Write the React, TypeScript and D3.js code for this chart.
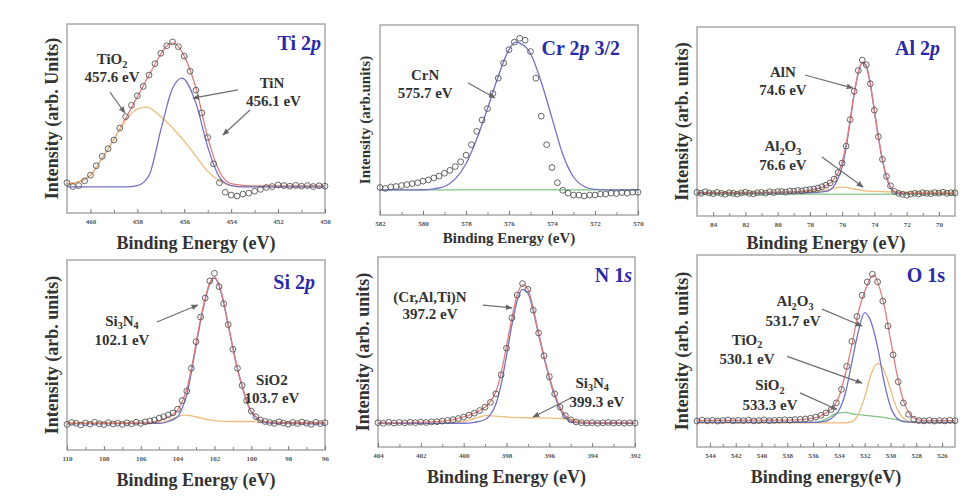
import { useRef, useEffect } from "react";
import * as d3 from "d3";

type Pt = [number, number];

// intensities are read as % of the plot frame height (0 = bottom, 100 = top)

// Ti 2p: counts every 0.25 eV from 461 eV
const tiCounts = [
  16, 14, 14.5, 17, 20, 25, 30, 34, 38.6, 45, 51, 57, 62, 67, 73, 79, 84.5, 88.5, 90.5, 88, 83, 75, 65,
  53, 40, 26, 16, 11, 9.5, 9, 10, 10.5, 11.5, 12.5, 13.5, 14, 14.8, 14.5, 14.2, 14.6, 14.2, 14.5, 14.0,
  14.4, 14.2,
];
const tiEnvelope: Pt[] = [
  [461, 15.5], [460.5, 16.5], [460, 20], [459.5, 29], [459, 39], [458.5, 50], [458, 61.5], [457.5, 73],
  [457, 84], [456.75, 88.5], [456.5, 90], [456.25, 88], [456, 83], [455.5, 66], [455, 40], [454.5, 22],
  [454, 15.5], [453.5, 14.6], [453, 14.3], [450, 14.3],
];
const tiTiN: Pt[] = [
  [461, 13.8], [458.5, 13.8], [458, 14.5], [457.5, 20], [457, 44], [456.5, 66], [456.1, 71.4], [455.5, 58],
  [455, 35], [454.5, 19], [454, 14.5], [453.5, 13.8], [450, 13.8],
];
const tiTiO2: Pt[] = [
  [461, 15], [460.5, 16.5], [460, 20], [459.5, 29], [459, 39], [458.5, 49], [458, 55], [457.6, 56],
  [457, 51], [456.5, 45], [456, 38], [455.5, 30], [455, 22], [454.5, 17], [454, 14.5], [453.5, 14],
  [450, 13.8],
];

// Cr 2p 3/2: counts every 0.25 eV from 582 eV
const crCounts = [
  14.5, 14, 14.8, 15, 15.5, 16, 16.5, 17, 17.8, 18.5, 19.5, 20.5, 22, 23.5, 25.5, 28, 31.5, 37, 44, 50,
  56, 64, 72, 80, 87, 91, 93, 92, 86, 72, 52, 37, 25, 17, 13, 11.5, 10.5, 10.5, 10, 10.5, 10.5, 11, 11,
  11.5, 11.3, 11.8, 11.5, 12, 12,
];
const crCrN: Pt[] = [
  [582, 13.2], [580, 13.3], [579.5, 13.8], [579, 15], [578.5, 19], [578, 27], [577.5, 40], [577, 56],
  [576.5, 73], [576, 87], [575.7, 91], [575.5, 90.5], [575, 85], [574.5, 70], [574, 51], [573.5, 32],
  [573, 20], [572.5, 15], [572, 13.5], [571, 13.2], [570, 13.2],
];
const crBackground: Pt[] = [[582, 13.2], [570, 13.2]];

// Al 2p: counts every 0.25 eV from 85 eV
const alCounts = [
  12.5, 12.0, 12.8, 12.2, 11.8, 12.5, 12.0, 11.5, 12.3, 12.0, 11.6, 12.2, 12.6, 12.0, 11.7, 12.3, 12.5,
  12.1, 12.8, 12.4, 12.9, 13.0, 12.6, 13.2, 13.1, 13.5, 13.3, 13.8, 14.0, 14.3, 14.8, 15.5, 16.3, 17.5,
  19.5, 23, 28, 37, 51, 66, 77, 82.5, 80, 70, 56, 42, 30, 21, 16, 13, 12, 11.5, 11, 11.6, 12.0, 11.7,
  12.3, 12.0, 11.8, 12.4, 12.1, 12.6, 12.0, 12.3, 12.2,
];
const alEnvelope: Pt[] = [
  [85, 12.3], [81, 12.4], [79, 12.8], [78, 13.5], [77.5, 14.5], [77, 16], [76.5, 19.5], [76.25, 23],
  [76, 28.5], [75.75, 38], [75.5, 51], [75.25, 65], [75, 76], [74.75, 81.5], [74.5, 79.5], [74.25, 70],
  [74, 56], [73.75, 42], [73.5, 30], [73.25, 21], [73, 15.5], [72.75, 13], [72.5, 12.2], [72, 12], [69, 12],
];
const alAlN: Pt[] = [
  [85, 12], [78, 12.2], [77, 13], [76.5, 16], [76.25, 20], [76, 26], [75.75, 36.5], [75.5, 50],
  [75.25, 64.5], [75, 75.5], [74.75, 81], [74.5, 79], [74.25, 69.5], [74, 55.5], [73.75, 41.5],
  [73.5, 29.5], [73.25, 20.5], [73, 15], [72.75, 12.6], [72.5, 11.9], [72, 11.8], [69, 11.8],
];
const alAl2O3: Pt[] = [
  [85, 12.5], [78, 12.7], [77, 13.5], [76.5, 14.8], [76, 15.3], [75.5, 14.8], [75, 13.8], [74, 13],
  [72, 12.6], [69, 12.6],
];
const alBackground: Pt[] = [[85, 11.6], [69, 11.6]];

// Si 2p: counts every 0.25 eV from 110 eV
const siCounts = [
  13.5, 14.5, 14.0, 13.2, 14.2, 13.6, 14.6, 13.8, 13.4, 14.4, 13.7, 14.1, 13.5, 14.3, 13.8, 14.6, 14.0,
  14.8, 15.3, 15.8, 16.8, 17.5, 18.5, 19.5, 21.5, 26, 31, 43, 57, 70, 80, 89, 93, 86, 77, 66, 53, 43,
  34, 26, 20.5, 17.5, 15.8, 15, 14.5, 14.0, 14.8, 14.2, 13.6, 14.5, 13.9, 14.7, 14.1, 13.5, 14.6, 13.9,
  14.4,
];
const siEnvelope: Pt[] = [
  [110, 14], [106, 14.1], [105, 15.5], [104.5, 17.5], [104, 21], [103.75, 25.5], [103.5, 32],
  [103.25, 43], [103, 56], [102.75, 69], [102.5, 80], [102.25, 88], [102, 91], [101.75, 87],
  [101.5, 78], [101.25, 66], [101, 54], [100.75, 43], [100.5, 34], [100.25, 26], [100, 20.5],
  [99.75, 17.5], [99.5, 15.8], [99, 14.6], [98, 14.2], [96, 14.2],
];
const siSi3N4: Pt[] = [
  [110, 13.8], [105, 14], [104.5, 15], [104, 17.5], [103.75, 22], [103.5, 29], [103.25, 41],
  [103, 54.5], [102.75, 68], [102.5, 79], [102.25, 87.5], [102, 90.5], [101.75, 86.5], [101.5, 77.5],
  [101.25, 65.5], [101, 53.5], [100.75, 42.5], [100.5, 33.5], [100.25, 25.5], [100, 20], [99.75, 17],
  [99.5, 15.3], [99, 14.2], [96, 13.8],
];
const siSiO2: Pt[] = [
  [110, 14.2], [105, 14.5], [104.5, 15.5], [104, 17.5], [103.6, 18.4], [103, 17.5], [102.5, 16.3],
  [102, 15.5], [101, 15], [100, 15], [99, 14.6], [96, 14.5],
];

// N 1s: counts every 0.25 eV from 404 eV
const nCounts = [
  12.8, 12.5, 13.0, 12.6, 12.9, 12.7, 13.0, 12.8, 13.1, 12.9, 13.2, 13.3, 13.6, 14.0, 14.4, 15.0, 15.8,
  16.8, 17.8, 19.2, 21, 23.5, 28, 38, 52, 68, 80, 86, 83, 72, 60, 48, 37, 28, 21, 16.5, 14.3, 13.2, 12.8,
  12.6, 12.8, 12.5, 12.7, 12.9, 12.6, 12.8, 12.5, 12.7, 12.6,
];
const nEnvelope: Pt[] = [
  [404, 12.7], [401.5, 13.2], [401, 13.6], [400.5, 14.4], [400, 15.8], [399.5, 17.8], [399, 21],
  [398.75, 24], [398.5, 29], [398.25, 39], [398, 53], [397.75, 68], [397.5, 80], [397.25, 85.5],
  [397, 83], [396.75, 73], [396.5, 60], [396.25, 48], [396, 37], [395.75, 28], [395.5, 21],
  [395.25, 16.5], [395, 14.3], [394.5, 12.9], [392, 12.7],
];
const nNitride: Pt[] = [
  [404, 12.4], [400, 12.5], [399.5, 13], [399, 14.5], [398.75, 17], [398.5, 22.5], [398.25, 33],
  [398, 48], [397.75, 64], [397.5, 77], [397.25, 83], [397, 81], [396.75, 71.5], [396.5, 59],
  [396.25, 47], [396, 36], [395.75, 27], [395.5, 20], [395.25, 15.5], [395, 13.5], [394.5, 12.6],
  [392, 12.4],
];
const nSi3N4: Pt[] = [
  [404, 12.5], [401, 12.7], [400, 13.5], [399.5, 15], [399, 16.5], [398.5, 16.3], [398, 15.8],
  [397, 15.4], [396, 15.2], [395, 14.5], [394.5, 13.2], [394, 12.6], [392, 12.5],
];

// O 1s: counts every 0.4 eV from 545 eV
const oCounts = [
  13.5, 14.0, 13.6, 13.9, 13.5, 13.8, 14.1, 13.6, 13.9, 13.7, 14.0, 13.6, 13.8, 14.1, 13.7, 13.9, 14.0,
  14.2, 14.0, 14.3, 14.4, 14.6, 15.0, 15.6, 16.5, 17.8, 19.5, 23, 30, 42, 55, 68, 79, 86, 90, 86, 76,
  63, 48, 34, 23, 17, 14.5, 13.8, 13.6, 13.9, 13.5, 13.8, 13.6, 13.9, 13.7,
];
const oEnvelope: Pt[] = [
  [545, 13.8], [538, 14], [537, 14.3], [536, 15], [535.5, 16], [535, 17.8], [534.5, 20.5], [534, 26],
  [533.5, 38], [533, 53], [532.5, 70], [532, 81], [531.5, 88.5], [531.25, 89.5], [531, 86], [530.5, 74],
  [530, 56], [529.5, 38], [529, 24], [528.5, 17], [528, 14.5], [527.5, 13.8], [525, 13.7],
];
const oAl2O3: Pt[] = [
  [545, 12.8], [536, 12.8], [535, 13.5], [534.5, 15.4], [534, 19], [533.5, 28], [533, 44], [532.5, 60],
  [532, 70], [531.5, 65], [531, 52], [530.5, 34], [530, 21], [529.5, 15], [529, 13.2], [528, 12.8],
  [525, 12.8],
];
const oTiO2: Pt[] = [
  [545, 12.6], [533.5, 12.6], [533, 13.2], [532.5, 17], [532, 26], [531.5, 38], [531, 43.6],
  [530.5, 40], [530, 30], [529.5, 20], [529, 15], [528.5, 13.2], [528, 12.6], [525, 12.6],
];
const oSiO2: Pt[] = [
  [545, 12.8], [536, 12.8], [535.5, 13.2], [535, 14.5], [534.5, 16.5], [534, 17.8], [533.5, 18],
  [533, 17.3], [532, 16.5], [531, 15.8], [530, 14.8], [529, 13.6], [528.5, 13], [528, 12.8], [525, 12.8],
];

const RED = "#e27c7c";
const BLUE = "#7272c6";
const ORANGE = "#efba7c";
const GREEN = "#82c482";
const TITLE = "#2b2ba6";
const SERIF = "'Liberation Serif', 'Times New Roman', serif";

const panels = [
  {
    title: "Ti 2*p*", titleX: 321, titleY: 43,
    domain: [461, 450], start: 461, step: 0.25, counts: tiCounts,
    fits: [[tiEnvelope, RED], [tiTiO2, ORANGE], [tiTiN, BLUE]] as [Pt[], string][],
    frame: { x: 67, y: 24, w: 258, h: 189 },
    yLabel: "Intensity (arb. Units)", yLabelX: 52, xLabel: "Binding Energy (eV)", xLabelY: 243, labelSize: 18,
    notes: [["TiO_2", 459.08, 81.5], ["457.6 eV", 459.08, 72], ["TiN", 452.26, 69], ["456.1 eV", 452.2, 59.5]],
    arrows: [[459.17, 64, 458.53, 52.9], [453.71, 65.1, 455.63, 60.8], [453.2, 54.5, 454.35, 41.3]],
  },
  {
    title: "Cr 2*p* 3/2", titleX: 620, titleY: 48,
    domain: [582, 570], start: 582, step: 0.25, counts: crCounts,
    fits: [[crBackground, GREEN], [crCrN, BLUE]] as [Pt[], string][],
    frame: { x: 380, y: 25, w: 258, h: 190 },
    yLabel: "Intensity (arb.units)", yLabelX: 365, xLabel: "Binding Energy (eV)", xLabelY: 238, labelSize: 15,
    notes: [["CrN", 579.9, 74], ["575.7 eV", 579.9, 64.2]],
    arrows: [[577.9, 69.5, 576.65, 61.6]],
  },
  {
    title: "Al 2*p*", titleX: 940, titleY: 48,
    domain: [85, 69], start: 85, step: 0.25, counts: alCounts,
    fits: [[alBackground, GREEN], [alAl2O3, ORANGE], [alAlN, BLUE], [alEnvelope, RED]] as [Pt[], string][],
    frame: { x: 697, y: 27, w: 258, h: 189 },
    yLabel: "Intensity (arb. units)", yLabelX: 682, xLabel: "Binding Energy (eV)", xLabelY: 243, labelSize: 18,
    notes: [["AlN", 79.67, 76.5], ["74.6 eV", 79.67, 66.7], ["Al_2O_3", 79.67, 37], ["76.6 eV", 79.67, 27]],
    arrows: [[78.3, 74.6, 75.33, 67.7], [77.25, 31.2, 74.7, 15.3]],
  },
  {
    title: "Si 2*p*", titleX: 315, titleY: 282,
    domain: [110, 96], start: 110, step: 0.25, counts: siCounts,
    fits: [[siSiO2, ORANGE], [siSi3N4, BLUE], [siEnvelope, RED]] as [Pt[], string][],
    frame: { x: 67, y: 260, w: 258, h: 190 },
    yLabel: "Intensity (arb. units)", yLabelX: 52, xLabel: "Binding Energy (eV)", xLabelY: 480, labelSize: 18,
    notes: [["Si_3N_4", 107.02, 68], ["102.1 eV", 107.02, 57.9], ["SiO2", 98.88, 36.8], ["103.7 eV", 98.88, 27.4]],
    arrows: [[105.12, 67.4, 102.9, 76.3]],
  },
  {
    title: "N 1*s*", titleX: 632, titleY: 275,
    domain: [404, 392], start: 404, step: 0.25, counts: nCounts,
    fits: [[nSi3N4, ORANGE], [nNitride, BLUE], [nEnvelope, RED]] as [Pt[], string][],
    frame: { x: 378, y: 257, w: 257, h: 190 },
    yLabel: "Intensity (arb. units)", yLabelX: 363, xLabel: "Binding Energy (eV)", xLabelY: 477, labelSize: 18,
    notes: [["(Cr,Al,Ti)N", 401.57, 79], ["397.2 eV", 401.57, 70], ["Si_3N_4", 394.0, 34], ["399.3 eV", 393.78, 23.7]],
    arrows: [[399.1, 74.7, 397.74, 73.2], [394.9, 26.3, 396.76, 15.8]],
  },
  {
    title: "O 1s", titleX: 945, titleY: 275,
    domain: [545, 525], start: 545, step: 0.4, counts: oCounts,
    fits: [[oSiO2, GREEN], [oTiO2, ORANGE], [oAl2O3, BLUE], [oEnvelope, RED]] as [Pt[], string][],
    frame: { x: 697, y: 255, w: 258, h: 192 },
    yLabel: "Intensity (arb. units)", yLabelX: 682, xLabel: "Binding energy(eV)", xLabelY: 477, labelSize: 18,
    notes: [["Al_2O_3", 537.4, 76], ["531.7 eV", 537.56, 66], ["TiO_2", 541.12, 56], ["530.1 eV", 541.12, 46],
      ["SiO_2", 539.34, 32.2], ["533.3 eV", 539.34, 22]],
    arrows: [[535.31, 71.8, 532.21, 63], [538.02, 47.2, 532.21, 33.3], [537.02, 28.2, 534.15, 19.5]],
  },
];

// "_2" -> subscript 2
const addSubscripted = (text: any, label: string, size: number) => {
  const parts = label.split(/_(\d)/);
  let down = false;
  parts.forEach((part, i) => {
    if (!part) return;
    const t = text.append("tspan").text(part);
    if (i % 2 === 1) {
      t.attr("font-size", size * 0.68).attr("dy", size * 0.22);
      down = true;
    } else if (down) {
      t.attr("dy", -size * 0.22);
      down = false;
    }
  });
};

const XpsPanels = () => {
  const svgRef = useRef<SVGSVGElement>(null);

  useEffect(() => {
    const svg = d3.select(svgRef.current);
    svg.selectAll("*").remove();

    svg
      .append("defs")
      .append("marker")
      .attr("id", "arrowhead")
      .attr("viewBox", "0 0 10 10")
      .attr("refX", 9)
      .attr("refY", 5)
      .attr("markerWidth", 7)
      .attr("markerHeight", 7)
      .attr("markerUnits", "userSpaceOnUse")
      .attr("orient", "auto")
      .append("path")
      .attr("d", "M0,1 L10,5 L0,9 Z")
      .attr("fill", "#666");

    panels.forEach(p => {
      const [hi, lo] = p.domain;
      const { x: fx, y: fy, w: fw, h: fh } = p.frame;
      const x = d3.scaleLinear().domain([hi, lo]).range([fx, fx + fw]);
      const y = d3.scaleLinear().domain([0, 100]).range([fy + fh, fy]);
      const g = svg.append("g");

      g.append("rect")
        .attr("x", fx)
        .attr("y", fy)
        .attr("width", fw)
        .attr("height", fh)
        .attr("fill", "white")
        .attr("stroke", "#a9a9a9")
        .attr("stroke-width", 1.5);

      const major = d3.range(Math.ceil(lo / 2) * 2, hi + 1e-6, 2);
      const minor = d3.range(Math.ceil(lo), hi + 1e-6, 1).filter(v => v % 2 !== 0 && v > lo && v < hi);

      const axMinor = g
        .append("g")
        .attr("transform", `translate(0,${fy + fh})`)
        .call(d3.axisBottom(x).tickValues(minor).tickSize(-3).tickFormat(() => ""));
      axMinor.select(".domain").remove();
      axMinor.selectAll("line").attr("stroke", "#888");

      const axMajor = g
        .append("g")
        .attr("transform", `translate(0,${fy + fh})`)
        .call(d3.axisBottom(x).tickValues(major).tickSize(-4).tickPadding(6).tickFormat(d3.format("d")));
      axMajor.select(".domain").remove();
      axMajor.selectAll("line").attr("stroke", "#777");
      axMajor
        .selectAll("text")
        .attr("font-size", 7)
        .attr("font-family", SERIF)
        .attr("font-weight", "bold")
        .attr("fill", "#555");

      const line = d3
        .line<Pt>()
        .x(d => x(d[0]))
        .y(d => y(d[1]))
        .curve(d3.curveMonotoneX);

      p.fits.forEach(([pts, color]) => {
        g.append("path")
          .attr("d", line(pts))
          .attr("fill", "none")
          .attr("stroke", color)
          .attr("stroke-width", 1.3);
      });

      g.selectAll(".pt")
        .data(p.counts)
        .enter()
        .append("circle")
        .attr("cx", (_d, i) => x(p.start - i * p.step))
        .attr("cy", d => y(d))
        .attr("r", 2.9)
        .attr("fill", "none")
        .attr("stroke", "#555")
        .attr("stroke-width", 0.9);

      // title, italic parts between *...*
      const title = g
        .append("text")
        .attr("x", p.titleX)
        .attr("y", p.titleY)
        .attr("dy", "0.35em")
        .attr("text-anchor", "end")
        .attr("font-family", SERIF)
        .attr("font-weight", "bold")
        .attr("font-size", 20)
        .attr("fill", TITLE);
      p.title.split(/\*(.+?)\*/).forEach((part, i) => {
        if (!part) return;
        const t = title.append("tspan").text(part);
        if (i % 2 === 1) t.attr("font-style", "italic");
      });

      p.arrows.forEach(([e1, i1, e2, i2]) => {
        g.append("line")
          .attr("x1", x(e1))
          .attr("y1", y(i1))
          .attr("x2", x(e2))
          .attr("y2", y(i2))
          .attr("stroke", "#6e6e6e")
          .attr("stroke-width", 1.2)
          .attr("marker-end", "url(#arrowhead)");
      });

      p.notes.forEach(([label, e, v]) => {
        const t = g
          .append("text")
          .attr("x", x(e as number))
          .attr("y", y(v as number))
          .attr("dy", "0.35em")
          .attr("text-anchor", "middle")
          .attr("font-family", SERIF)
          .attr("font-weight", "bold")
          .attr("font-size", 15)
          .attr("fill", "#333");
        addSubscripted(t, label as string, 15);
      });

      g.append("text")
        .attr("transform", `translate(${p.yLabelX},${fy + fh / 2}) rotate(-90)`)
        .attr("dy", "0.35em")
        .attr("text-anchor", "middle")
        .attr("font-family", SERIF)
        .attr("font-weight", "bold")
        .attr("font-size", p.labelSize)
        .attr("fill", "#333")
        .text(p.yLabel);

      g.append("text")
        .attr("x", fx + fw / 2)
        .attr("y", p.xLabelY)
        .attr("dy", "0.35em")
        .attr("text-anchor", "middle")
        .attr("font-family", SERIF)
        .attr("font-weight", "bold")
        .attr("font-size", p.labelSize)
        .attr("fill", "#333")
        .text(p.xLabel);
    });
  }, []);

  return (
    <svg
      ref={svgRef}
      width={971}
      height={501}
      style={{ position: "absolute", left: 0, top: 0, background: "white" }}
    />
  );
};

export default function App() {
  return <XpsPanels />;
}
